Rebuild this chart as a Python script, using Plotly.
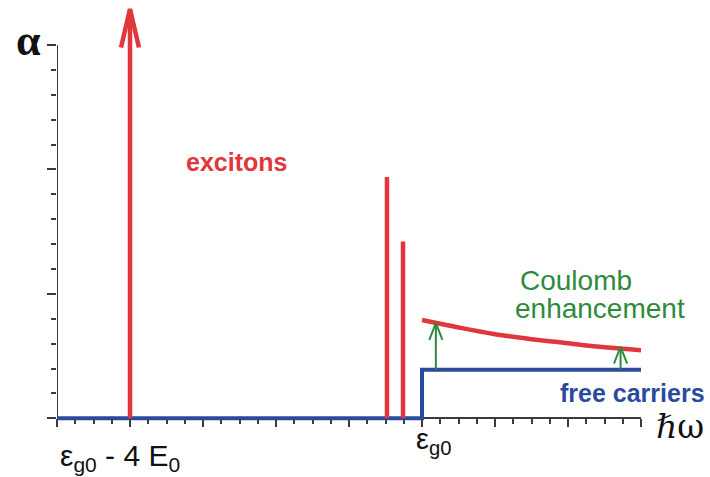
import plotly.graph_objects as go

# ---- data (energy in units of E0, measured from the gap eps_g0) ----
exciton_x = [-4.0, -0.48, -0.26]          # exciton lines
exciton_h = [3.29, 1.94, 1.42]            # heights (first one is an arrow)
free_x = [-5.0, 0.0, 3.0]                 # free-carrier step
free_y = [0.0, 0.39, 0.39]
coul_x = [0.0, 0.5, 1.0, 1.5, 2.0, 2.5, 3.0]   # Coulomb-enhanced continuum
coul_y = [0.79, 0.73, 0.676, 0.636, 0.603, 0.571, 0.547]
enh_x = [0.19, 2.72]                      # enhancement arrows
enh_top = [0.765, 0.575]
x_major = [-5, -4, -3, -2, -1, 0, 1, 2, 3]
y_major = [0, 1, 2, 3]

RED = "#e0373c"
BLUE = "#2b4a9e"
GREEN = "#2e8b3c"
AX = "#3a3a3a"

fig = go.Figure()

# free carriers step
fig.add_trace(go.Scatter(x=free_x, y=free_y, mode="lines", line_shape="hv",
                         line=dict(color=BLUE, width=4), hoverinfo="skip"))
# Coulomb-enhanced curve
fig.add_trace(go.Scatter(x=coul_x, y=coul_y, mode="lines", line_shape="spline",
                         line=dict(color=RED, width=4.5), hoverinfo="skip"))
# exciton lines
for xx, hh in zip(exciton_x, exciton_h):
    fig.add_trace(go.Scatter(x=[xx, xx], y=[0, hh], mode="lines",
                             line=dict(color=RED, width=4.5), hoverinfo="skip"))
# arrowhead on first exciton
ax0, ah0 = exciton_x[0], exciton_h[0]
fig.add_trace(go.Scatter(x=[ax0 - 0.123, ax0, ax0 + 0.123], y=[ah0 - 0.31, ah0, ah0 - 0.31],
                         mode="lines", line=dict(color=RED, width=4.5), hoverinfo="skip"))
# green enhancement arrows
for xx, tt in zip(enh_x, enh_top):
    fig.add_trace(go.Scatter(x=[xx, xx], y=[free_y[1], tt], mode="lines",
                             line=dict(color=GREEN, width=2), hoverinfo="skip"))
    fig.add_trace(go.Scatter(x=[xx - 0.09, xx, xx + 0.09], y=[tt - 0.135, tt, tt - 0.135],
                             mode="lines", line=dict(color=GREEN, width=2), hoverinfo="skip"))

# y-axis line (only up to 3)
fig.add_shape(type="line", xref="x", yref="y", x0=-5, x1=-5, y0=0, y1=3,
              line=dict(color=AX, width=2), layer="below")

ylo, yhi = -0.03, 3.33
fig.update_layout(
    width=710, height=477,
    margin=dict(l=57, r=69, t=4, b=55),
    paper_bgcolor="white", plot_bgcolor="white",
    showlegend=False,
    xaxis=dict(range=[-5, 3], showgrid=False, zeroline=False, showline=True,
               linecolor=AX, linewidth=2, anchor="free", position=(0 - ylo) / (yhi - ylo),
               tickmode="array", tickvals=x_major, ticks="outside", ticklen=8,
               tickwidth=1.5, tickcolor=AX, showticklabels=False, layer="below traces",
               minor=dict(dtick=0.25, tick0=0, ticks="outside", ticklen=5,
                          tickwidth=1.5, tickcolor=AX, showgrid=False)),
    yaxis=dict(range=[ylo, yhi], showgrid=False, zeroline=False, showline=False,
               tickmode="array", tickvals=y_major, ticks="outside", ticklen=9,
               tickwidth=1.5, tickcolor=AX, showticklabels=False,
               minor=dict(tickmode="array",
                          tickvals=[i * 0.2 for i in range(1, 15) if i % 5 != 0],
                          ticks="outside", ticklen=5, tickwidth=1.5, tickcolor=AX,
                          showgrid=False)),
)

SANS = "Liberation Sans, Arial, sans-serif"
data_ann = [
    dict(text="<b>excitons</b>", x=-2.54, y=2.06, font=dict(family=SANS, size=25, color=RED),
         xanchor="center", yanchor="middle"),
    dict(text="Coulomb", x=2.11, y=1.11, font=dict(family=SANS, size=28, color=GREEN),
         xanchor="center", yanchor="middle"),
    dict(text="enhancement", x=2.44, y=0.88, font=dict(family=SANS, size=28, color=GREEN),
         xanchor="center", yanchor="middle"),
]
for a in data_ann:
    a.update(xref="x", yref="y", showarrow=False)
    fig.add_annotation(**a)

paper_ann = [
    dict(text="<b>α</b>", x=-0.048, y=0.912, font=dict(family="Liberation Serif, serif", size=44, color="#111"),
         xanchor="center", yanchor="middle"),
    dict(text="<b>free carriers</b>", x=1.113, y=0.07, font=dict(family=SANS, size=25, color=BLUE),
         xanchor="right", yanchor="middle"),
    dict(text="<i>ℏ</i>ω", x=1.067, y=-0.01, font=dict(family="DejaVu Serif, serif", size=33, color="#111"),
         xanchor="center", yanchor="middle"),
    dict(text="ε<sub>g0</sub> - 4 E<sub>0</sub>", x=0.0017, y=-0.085,
         font=dict(family=SANS, size=30, color="#111"), xanchor="left", yanchor="middle"),
    dict(text="ε<sub>g0</sub>", x=0.645, y=-0.045,
         font=dict(family=SANS, size=29, color="#111"), xanchor="center", yanchor="middle"),
]
for a in paper_ann:
    a.update(xref="paper", yref="paper", showarrow=False)
    fig.add_annotation(**a)

fig.write_html("out.html")
